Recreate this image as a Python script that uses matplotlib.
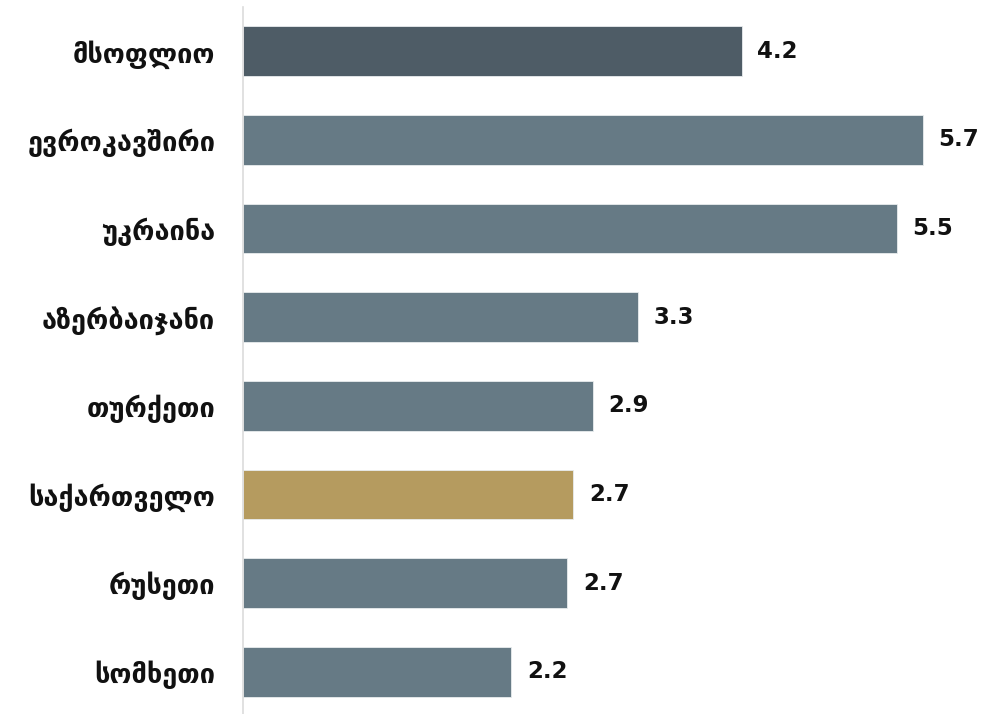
import matplotlib
matplotlib.use("Agg")
import matplotlib.pyplot as plt

categories = ["მსოფლიო", "ევროკავშირი", "უკრაინა", "აზერბაიჯანი",
              "თურქეთი", "საქართველო", "რუსეთი", "სომხეთი"]
values = [4.18, 5.70, 5.48, 3.31, 2.93, 2.77, 2.72, 2.25]
value_labels = ["4.2", "5.7", "5.5", "3.3", "2.9", "2.7", "2.7", "2.2"]
colors = ["#4e5c66", "#667a85", "#667a85", "#667a85",
          "#667a85", "#b59b5f", "#667a85", "#667a85"]

plt.rcParams['font.family'] = ['DejaVu Sans']

fig = plt.figure(figsize=(9.84, 7.14), dpi=100)
ax = fig.add_axes([243/984, -2/714, (984-243)/984, 709/714])

y = list(range(len(categories)))
ax.barh(y, values, height=0.56, color=colors, edgecolor="#e8ecee", linewidth=0.6)
ax.set_ylim(len(categories) - 0.5, -0.5)
ax.set_xlim(0, 741/119.3)

for yi, v, lab in zip(y, values, value_labels):
    ax.text(v + 0.13, yi, lab, va="center", ha="left", fontsize=16.5,
            fontweight="bold", color="#111111")

ax.set_yticks(y)
ax.set_yticklabels(categories, fontsize=19.5, fontweight="bold", color="#111111")
ax.tick_params(axis="y", length=0, pad=20)
ax.set_xticks([])
for s in ["top", "right", "bottom"]:
    ax.spines[s].set_visible(False)
ax.spines["left"].set_color("#dcdcdc")
ax.spines["left"].set_linewidth(1.2)

fig.savefig("out.png", dpi=100)
